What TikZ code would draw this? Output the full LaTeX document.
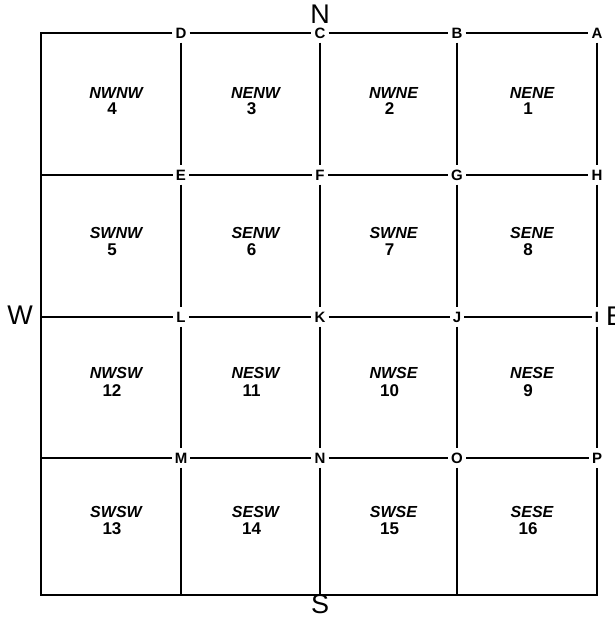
\documentclass[tikz,border=0pt]{standalone}
\usepackage{fontspec}
\setmainfont{Liberation Sans}
\begin{document}
\begin{tikzpicture}[x=1pt,y=-1pt,
  outer/.style={line width=2.8pt, line join=miter},
  inner/.style={line width=1.7pt},
  pt/.style={font=\fontsize{15}{15}\selectfont\bfseries, text height=10.7pt, text depth=0pt, inner xsep=3pt, inner ysep=4pt},
  compass/.style={font=\fontsize{27}{27}\selectfont, inner sep=0pt},
  lbl/.style={font=\fontsize{16}{16}\selectfont\bfseries\itshape, anchor=base, inner sep=0pt},
  num/.style={font=\fontsize{17}{17}\selectfont\bfseries, anchor=base, inner sep=0pt}]
\useasboundingbox (0,0) rectangle (615,618);
% letter nodes
\node[pt] (D) at (181,33) {D};
\node[pt] (C) at (320,33) {C};
\node[pt] (B) at (457,33) {B};
\node[pt] (A) at (597,33) {A};
\node[pt] (E) at (181,175) {E};
\node[pt] (F) at (320,175) {F};
\node[pt] (G) at (457,175) {G};
\node[pt] (H) at (597,175) {H};
\node[pt] (L) at (181,317) {L};
\node[pt] (K) at (320,317) {K};
\node[pt] (J) at (457,317) {J};
\node[pt] (I) at (597,317) {I};
\node[pt] (M) at (181,458) {M};
\node[pt] (N) at (320,458) {N};
\node[pt] (O) at (457,458) {O};
\node[pt] (P) at (597,458) {P};
% compass
\node[compass] (cN) at (320,14) {N};
\node[compass] (cW) at (20,315) {W};
\node[compass] (cS) at (320,604) {S};
\node[compass, anchor=west] (cE) at (606,316) {E};
% border coordinates
\coordinate (TL) at (41,33);
\coordinate (l1) at (41,175);
\coordinate (l2) at (41,317);
\coordinate (l3) at (41,458);
\coordinate (BL) at (41,595);
\coordinate (b1) at (181,595);
\coordinate (b2) at (320,595);
\coordinate (b3) at (457,595);
\coordinate (BR) at (597,595);
% outer border
\draw[outer] (D) -- (TL) -- (l1) -- (l2) -- (l3) -- (BL) -- (b1) -- (b2) -- (b3) -- (BR) -- (P);
\draw[outer] (D) -- (C);
\draw[outer] (C) -- (B);
\draw[outer] (B) -- (A);
\draw[outer] (A) -- (H);
\draw[outer] (H) -- (I);
\draw[outer] (I) -- (P);
% interior horizontals
\draw[inner] (l1) -- (E) -- (F) -- (G) -- (H);
\draw[inner] (l2) -- (L) -- (K) -- (J) -- (I);
\draw[inner] (l3) -- (M) -- (N) -- (O) -- (P);
% interior verticals
\draw[inner] (D) -- (E) -- (L) -- (M) -- (b1);
\draw[inner] (C) -- (F) -- (K) -- (N) -- (b2);
\draw[inner] (B) -- (G) -- (J) -- (O) -- (b3);
% cell labels
\foreach \t/\n/\cx/\ly/\ny [count=\i] in {
  NWNW/4/111/98/114, NENW/3/250.5/98/114, NWNE/2/388.5/98/114, NENE/1/527/98/114,
  SWNW/5/111/238/255, SENW/6/250.5/238/255, SWNE/7/388.5/238/255, SENE/8/527/238/255,
  NWSW/12/111/378/396, NESW/11/250.5/378/396, NWSE/10/388.5/378/396, NESE/9/527/378/396,
  SWSW/13/111/517/534, SESW/14/250.5/517/534, SWSE/15/388.5/517/534, SESE/16/527/517/534} {
  \node[lbl] (t\i) at (\cx+5,\ly) {\t};
  \node[num] (n\i) at (\cx+1,\ny) {\n};
}
\end{tikzpicture}
\end{document}
